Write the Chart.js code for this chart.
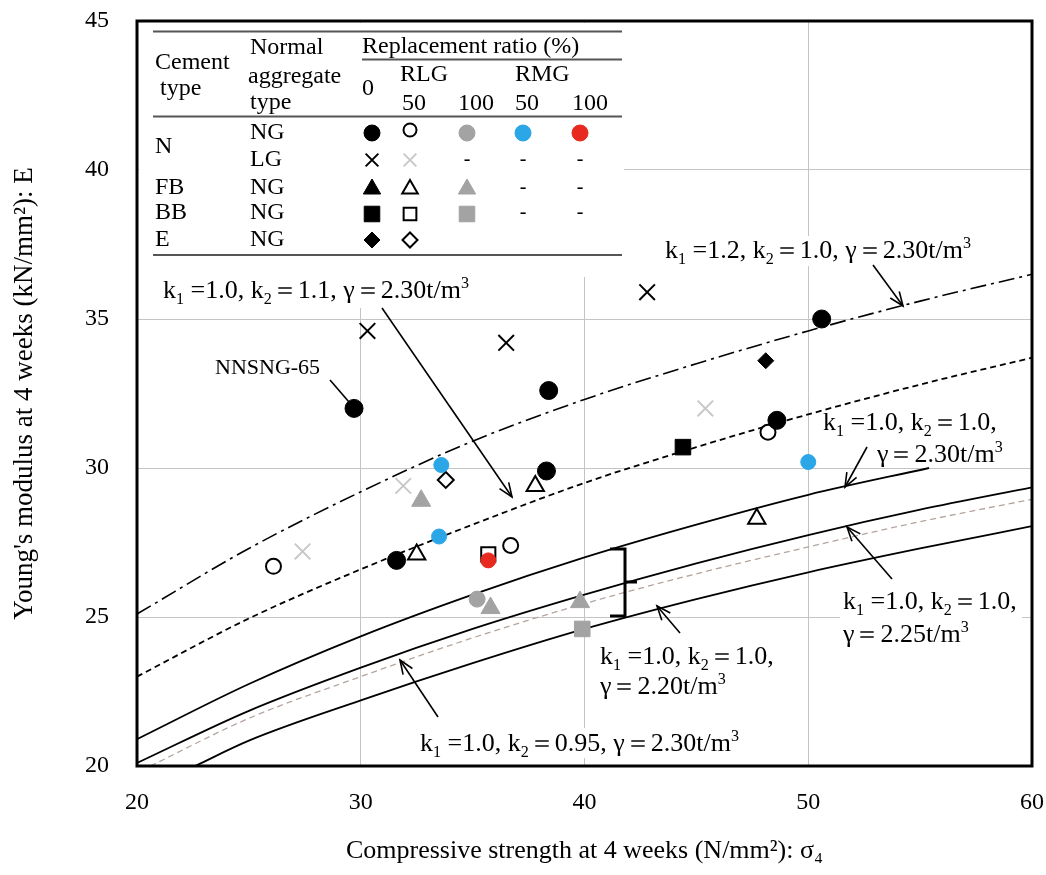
<!DOCTYPE html>
<html><head><meta charset="utf-8">
<script src="https://cdn.jsdelivr.net/npm/chart.js@4.4.1/dist/chart.umd.min.js"></script>
<style>html,body{margin:0;padding:0;background:#fff}#wrap{width:1046px;height:875px}</style>
</head><body><div id="wrap"><canvas id="c" width="1046" height="875"></canvas></div>
<script>
// ---- measured points: [compressive strength, Young's modulus] ----
const N_NG_0      = [[29.7,32.0],[38.4,32.6],[38.3,29.9],[31.6,26.9],[48.6,31.6],[50.6,35.0]];
const N_NG_RLG50  = [[26.1,26.7],[36.7,27.4],[48.2,31.2]];
const N_NG_RLG100 = [[35.2,25.6]];
const N_NG_RMG50  = [[33.6,30.1],[33.5,27.7],[50.0,30.2]];
const N_NG_RMG100 = [[35.7,26.9]];
const N_LG_0      = [[30.3,34.6],[36.5,34.2],[42.8,35.9]];
const N_LG_RLG50  = [[27.4,27.2],[31.9,29.4],[45.4,32.0]];
const FB_RLG50    = [[32.5,27.1],[37.8,29.4],[47.7,28.3]];
const FB_RLG100   = [[32.7,28.9],[35.8,25.3],[39.8,25.5]];
const BB_0        = [[44.4,30.7]];
const BB_RLG50    = [[35.7,27.1]];
const BB_RLG100   = [[39.9,24.6]];
const E_0         = [[48.1,33.6]];
const E_RLG50     = [[33.8,29.6]];

// ---- reference curves ----
const sigmaFull = [20,25,30,35,40,45,50,55,60];
const E_k1_12   = [25.1,27.3,29.2,30.9,32.3,33.5,34.6,35.6,36.5];
const E_k2_11   = [23.0,24.95,26.6,28.1,29.5,30.7,31.8,32.8,33.7];
const sigma230  = [20,25,30,35,40,45,50,55.4];
const E_g230    = [20.9,22.75,24.35,25.75,27.0,28.1,29.1,30.0];
const E_g225    = [20.1,21.85,23.3,24.6,25.75,26.8,27.75,28.6,29.35];
const sigmaK095 = [20.6,25,30,35,40,45,50,55,60];
const E_k2_095  = [20.0,21.6,23.0,24.3,25.45,26.45,27.35,28.2,28.95];
const sigma220  = [22.6,25,30,35,40,45,50,55,60];
const E_g220    = [20.0,20.85,22.2,23.45,24.6,25.6,26.5,27.3,28.05];

const xTicks = [20,30,40,50,60];
const yTicks = [20,25,30,35,40,45];

const GRAY='#a3a3a3', LGRAY='#c8c8c8', BLUE='#2ba6e6', RED='#e8291f';
const SERIF='"Liberation Serif", "Times New Roman", serif';

const pts = a => a.map(p => ({x:p[0], y:p[1]}));
const crv = (xs, ys) => xs.map((x,i) => ({x, y:ys[i]}));

function sc(data, style, r, fill, stroke, bw){
  return {type:'scatter', data:pts(data), pointStyle:style, pointRadius:r, pointHoverRadius:r,
    pointBackgroundColor:fill, pointBorderColor:stroke, pointBorderWidth:bw, showLine:false};
}
function ln(xs, ys, color, dash, w){
  return {type:'line', data:crv(xs,ys), borderColor:color, borderWidth:w, borderDash:dash,
    pointRadius:0, fill:false, cubicInterpolationMode:'monotone'};
}

const datasets = [
  sc(N_NG_0,'circle',9,'#000','#000',1),
  sc(N_NG_RLG50,'circle',7.5,'#fff','#000',2),
  sc(N_NG_RLG100,'circle',8,GRAY,GRAY,1),
  sc(N_NG_RMG50,'circle',7.5,BLUE,BLUE,1),
  sc(N_NG_RMG100,'circle',7.5,RED,RED,1),
  sc(N_LG_0,'crossRot',11,'#000','#000',2),
  sc(N_LG_RLG50,'crossRot',11,LGRAY,LGRAY,2),
  sc(FB_RLG50,'triangle',10,'#fff','#000',2),
  sc(FB_RLG100,'triangle',11,GRAY,GRAY,1),
  sc(BB_0,'rect',11,'#000','#000',1),
  sc(BB_RLG50,'rect',10,'#fff','#000',2),
  sc(BB_RLG100,'rect',11,GRAY,GRAY,1),
  sc(E_0,'rectRot',8,'#000','#000',1),
  sc(E_RLG50,'rectRot',8,'#fff','#000',2),
  ln(sigmaFull,E_k1_12,'#000',[16,5,3,5],1.6),
  ln(sigmaFull,E_k2_11,'#000',[6,4],1.8),
  ln(sigma230,E_g230,'#000',[],1.8),
  ln(sigmaFull,E_g225,'#000',[],1.8),
  ln(sigmaK095,E_k2_095,'#b4a59e',[6,4],1.3),
  ln(sigma220,E_g220,'#000',[],1.8)
];

function rich(ctx, x, y, parts, size){
  let cx = x;
  ctx.textBaseline='alphabetic'; ctx.textAlign='left';
  for (const [t,m] of parts){
    const fs = m ? size*0.62 : size;
    ctx.font = fs+'px '+SERIF;
    const dy = m===1 ? size*0.22 : (m===2 ? -size*0.38 : 0);
    ctx.fillText(t, cx, y+dy);
    cx += ctx.measureText(t).width;
  }
}
function kLine(k1,k2){ return [['k',0],['1',1],[' ='+k1+', k',0],['2',1],['＝'+k2+',',0]]; }
function gLine(g){ return [['γ＝'+g+'t/m',0],['3',2]]; }
function arrow(ctx,x1,y1,x2,y2){
  ctx.beginPath(); ctx.moveTo(x1,y1); ctx.lineTo(x2,y2); ctx.stroke();
  const a=Math.atan2(y2-y1,x2-x1), L=15, s=0.38;
  ctx.beginPath();
  ctx.moveTo(x2-L*Math.cos(a-s), y2-L*Math.sin(a-s));
  ctx.lineTo(x2,y2);
  ctx.lineTo(x2-L*Math.cos(a+s), y2-L*Math.sin(a+s));
  ctx.stroke();
}
function sym(ctx, style, r, fill, stroke, bw, x, y){
  ctx.save();
  ctx.fillStyle=fill; ctx.strokeStyle=stroke; ctx.lineWidth=bw;
  Chart.helpers.drawPoint(ctx,{pointStyle:style,radius:r,rotation:0,borderWidth:bw},x,y);
  ctx.restore();
}

const deco = {
  id:'deco',
  beforeDatasetsDraw(chart){
    const ctx=chart.ctx; ctx.save(); ctx.fillStyle='#fff';
    ctx.fillRect(139,23,485,254);       // table
    ctx.fillRect(139,277,346,31);       // k2=1.1 label
    ctx.fillRect(662,236,318,30);       // k1=1.2 label
    ctx.fillRect(840,588,182,58);       // 2.25 label
    ctx.fillRect(590,641,190,58);       // 2.20 label
    ctx.fillRect(416,728,330,30);       // 0.95 label
    ctx.restore();
  },
  afterDatasetsDraw(chart){
    const ctx=chart.ctx; ctx.save();
    // ---- table ----
    ctx.strokeStyle='#555'; ctx.lineWidth=2;
    [[153,31.5,622],[362,59.5,622],[153,116.5,622],[153,255,622]].forEach(([a,y,b])=>{
      ctx.beginPath(); ctx.moveTo(a,y); ctx.lineTo(b,y); ctx.stroke();});
    ctx.fillStyle='#000'; ctx.textBaseline='middle'; ctx.textAlign='left';
    ctx.font='24px '+SERIF;
    const T=[['Cement',155,63],['type',160,89],['Normal',250,48],['aggregate',248,77],['type',250,103],
      ['Replacement ratio (%)',362,47],['0',362,89],['RLG',400,75],['RMG',515,75],
      ['50',402,104],['100',458,104],['50',515,104],['100',572,104],
      ['N',155,147],['NG',250,133],['LG',250,160],['FB',155,188],['NG',250,188],
      ['BB',155,213],['NG',250,213],['E',155,240],['NG',250,240]];
    T.forEach(([t,x,y])=>ctx.fillText(t,x,y));
    ctx.font='20px '+SERIF; ctx.textAlign='center';
    [[467,160],[523,160],[580,160],[523,188],[580,188],[523,213],[580,213]].forEach(([x,y])=>ctx.fillText('-',x,y));
    const cx=[372,410,467,523,580];
    sym(ctx,'circle',8,'#000','#000',1,cx[0],133);
    sym(ctx,'circle',6.5,'#fff','#000',2,cx[1],130);
    sym(ctx,'circle',8,GRAY,GRAY,1,cx[2],133);
    sym(ctx,'circle',8,BLUE,BLUE,1,cx[3],133);
    sym(ctx,'circle',8,RED,RED,1,cx[4],133);
    sym(ctx,'crossRot',9,'#000','#000',2,cx[0],160);
    sym(ctx,'crossRot',9,LGRAY,LGRAY,2,cx[1],160);
    sym(ctx,'triangle',10,'#000','#000',1,cx[0],189);
    sym(ctx,'triangle',9,'#fff','#000',2,cx[1],189);
    sym(ctx,'triangle',10,GRAY,GRAY,1,cx[2],189);
    sym(ctx,'rect',11,'#000','#000',1,cx[0],214);
    sym(ctx,'rect',9,'#fff','#000',2,cx[1],214);
    sym(ctx,'rect',11,GRAY,GRAY,1,cx[2],214);
    sym(ctx,'rectRot',8,'#000','#000',1,cx[0],240);
    sym(ctx,'rectRot',7.5,'#fff','#000',2,cx[1],240);
    // ---- annotations ----
    ctx.fillStyle='#000';
    const F=26;
    rich(ctx,163,298,[...kLine('1.0','1.1'),[' γ＝2.30t/m',0],['3',2]],F);
    rich(ctx,665,258,[...kLine('1.2','1.0'),[' γ＝2.30t/m',0],['3',2]],F);
    rich(ctx,823,430,kLine('1.0','1.0'),F); rich(ctx,877,462,gLine('2.30'),F);
    rich(ctx,843,609,kLine('1.0','1.0'),F); rich(ctx,843,642,gLine('2.25'),F);
    rich(ctx,600,664,kLine('1.0','1.0'),F); rich(ctx,600,694,gLine('2.20'),F);
    rich(ctx,420,751,[...kLine('1.0','0.95'),[' γ＝2.30t/m',0],['3',2]],F);
    ctx.font='22px '+SERIF; ctx.textAlign='left'; ctx.textBaseline='alphabetic';
    ctx.fillText('NNSNG-65',215,374);
    ctx.strokeStyle='#000'; ctx.lineWidth=1.6;
    ctx.beginPath(); ctx.moveTo(330,380); ctx.lineTo(349,402); ctx.stroke();
    arrow(ctx,382,308,512,497);
    arrow(ctx,873,265,903,306);
    arrow(ctx,867,447,845,487);
    arrow(ctx,892,579,847,527);
    arrow(ctx,680,633,657,606);
    arrow(ctx,438,717,400,660);
    // bracket
    ctx.lineWidth=3;
    ctx.beginPath(); ctx.moveTo(610,549); ctx.lineTo(625,549); ctx.lineTo(625,616); ctx.lineTo(610,616); ctx.stroke();
    ctx.beginPath(); ctx.moveTo(625,582); ctx.lineTo(637,582); ctx.stroke();
    // frame
    const a=chart.chartArea;
    ctx.lineWidth=3; ctx.strokeStyle='#000';
    ctx.strokeRect(a.left,a.top,a.right-a.left,a.bottom-a.top);
    ctx.restore();
  }
};

function zeroPad(s){ s.paddingLeft=0; s.paddingRight=0; s.paddingTop=0; s.paddingBottom=0; }

new Chart(document.getElementById('c'), {
  data:{datasets},
  options:{
    responsive:false, devicePixelRatio:1, animation:false,
    layout:{padding:{left:0,top:21,right:14,bottom:0}},
    plugins:{legend:{display:false}, tooltip:{enabled:false}},
    scales:{
      x:{type:'linear', min:20, max:60,
        afterFit(s){ s.height=109; zeroPad(s); },
        afterBuildTicks(s){ s.ticks = xTicks.map(v=>({value:v})); },
        grid:{color:'#c4c4c4', lineWidth:1, drawTicks:false},
        border:{display:false},
        ticks:{font:{family:SERIF,size:24}, color:'#000', padding:22, maxRotation:0},
        title:{display:true, text:'Compressive strength at 4 weeks (N/mm²): σ₄', color:'#000',
          font:{family:SERIF,size:26}, padding:{top:0,bottom:8}}
      },
      y:{type:'linear', min:20, max:45,
        afterFit(s){ s.width=137; zeroPad(s); },
        afterBuildTicks(s){ s.ticks = yTicks.map(v=>({value:v})); },
        grid:{color:'#c4c4c4', lineWidth:1, drawTicks:false},
        border:{display:false},
        ticks:{font:{family:SERIF,size:24}, color:'#000', padding:28},
        title:{display:true, text:"Young's modulus at 4 weeks (kN/mm²): E", color:'#000',
          font:{family:SERIF,size:27}, padding:{top:9,bottom:0}}
      }
    }
  },
  plugins:[deco]
});
</script></body></html>
